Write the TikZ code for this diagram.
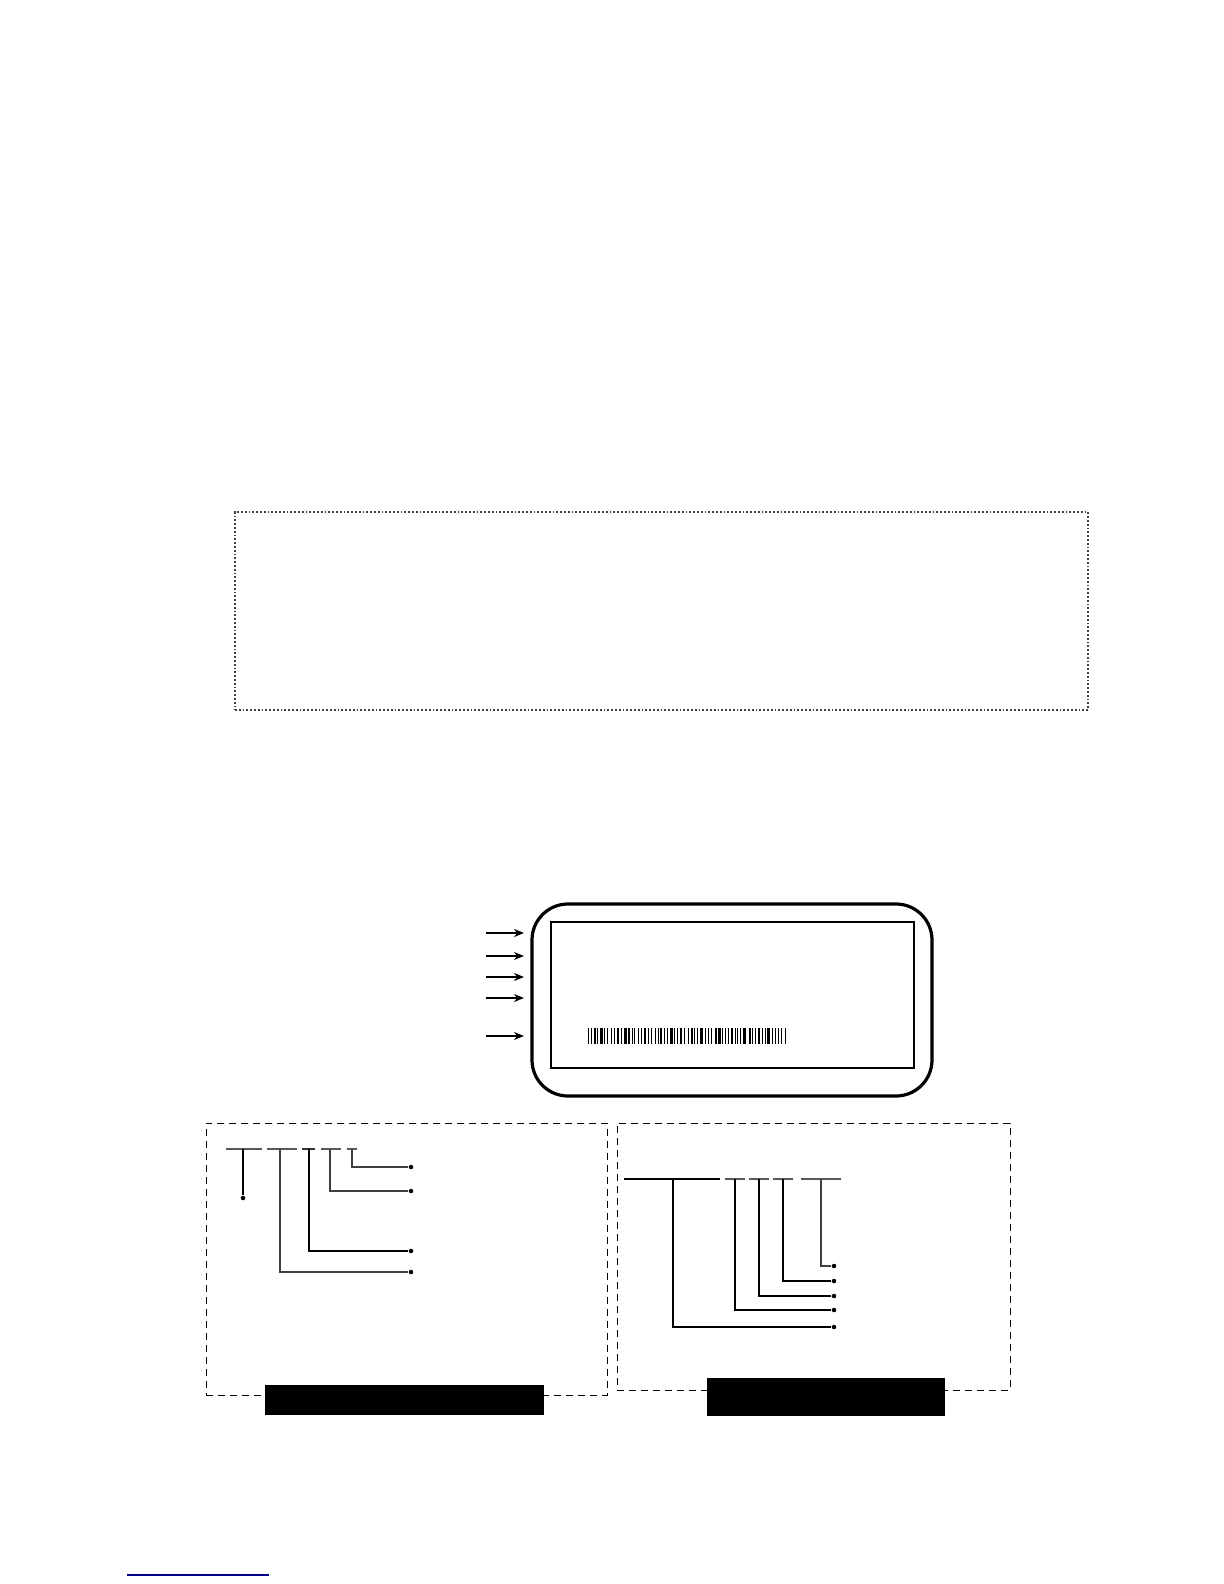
\documentclass[tikz,border=0pt]{standalone}
\usetikzlibrary{arrows.meta}

\begin{document}
\begin{tikzpicture}[x=0.5pt,y=-0.5pt,
  dot/.style={circle,fill=black,inner sep=0.8pt},
  frame/.style={draw,dash pattern=on 3.5pt off 2.5pt,line width=0.5pt,inner sep=0pt},
  tagbar/.style={fill=black,inner sep=0pt},
  feed/.style={-{Stealth[length=5pt,width=4pt]},line width=0.9pt},
  rule/.style={black!65,line width=0.7pt},
  branch/.style={line width=0.6pt}]
  \useasboundingbox (0,0) rectangle (1224,1584);

  \node[draw=black!75,densely dotted,line width=0.9pt,inner sep=0pt,minimum width=426.5pt,minimum height=99pt] (panel) at (661.5,611) {};

  \node[draw,rounded corners=18pt,line width=1.6pt,inner sep=0pt,minimum width=200pt,minimum height=96pt] (plate) at (732,1000) {};
  \node[draw,line width=0.7pt,inner sep=0pt,minimum width=181.5pt,minimum height=73pt] (sheet) at (732.5,995) {};

  \foreach \y [count=\i] in {933,956,977,998,1036} {
    \coordinate (f\i) at (486,\y);
    \coordinate (p\i) at (524,\y);
    \draw[feed] (f\i) -- (p\i);
  }

  \xdef\barx{588}
  \foreach \w/\g in {1/2,1/2,2/1,1/2,3/1,1/2,1/3,1/2,1/2,2/2,1/2,3/1,2/2,1/1,1/3,1/2,1/2,2/2,1/2,1/3,
                     1/2,1/1,2/2,1/2,1/2,3/1,1/2,1/2,2/2,1/3,1/2,2/1,1/2,1/2,3/2,1/2,1/2,1/3,2/1,3/1,
                     1/2,1/2,1/2,2/2,1/1,1/2,1/2,3/3,2/1,1/2,1/2,2/2,1/2,1/1,3/2,1/2,1/2,1/2,1/3,1/0} {
    \fill (\barx,1028) rectangle ++(\w,16);
    \pgfmathsetmacro\nextx{\barx+\w+\g}
    \xdef\barx{\nextx}
  }

  \node[frame,minimum width=200.5pt,minimum height=136pt] (lbox) at (406.5,1259) {};
  \node[frame,minimum width=196.5pt,minimum height=133.5pt] (rbox) at (813.5,1256.5) {};
  \node[tagbar,minimum width=139.5pt,minimum height=15pt] (lcap) at (404.5,1400) {};
  \node[tagbar,minimum width=119pt,minimum height=19pt] (rcap) at (826,1397) {};

  \draw[rule] (226,1149) -- (262,1149);
  \draw[rule] (267,1149) -- (297,1149);
  \draw[rule,black!80,line width=1pt] (302,1149) -- (315,1149);
  \draw[rule] (321,1149) -- (341,1149);
  \draw[rule] (347,1149) -- (357,1149);

  \coordinate (ta) at (243,1149);
  \coordinate (tb) at (280,1149);
  \coordinate (tc) at (309,1149);
  \coordinate (td) at (330,1149);
  \coordinate (te) at (352,1149);
  \node[dot] (la) at (243,1198) {};
  \node[dot] (lb) at (411,1272) {};
  \node[dot] (lc) at (411,1251) {};
  \node[dot] (ld) at (411,1191) {};
  \node[dot] (le) at (411,1167) {};
  \draw[branch] (ta) -- (la);
  \draw[branch,black!75] (tb) |- (lb);
  \draw[branch,line width=0.9pt] (tc) |- (lc);
  \draw[branch,black!75] (td) |- (ld);
  \draw[branch,black!75] (te) |- (le);

  \draw[line width=1.1pt] (624,1179) -- (720,1179);
  \draw[rule] (725,1179) -- (745,1179);
  \draw[rule] (749,1179) -- (769,1179);
  \draw[rule] (773,1179) -- (793,1179);
  \draw[rule] (801,1179) -- (841,1179);

  \coordinate (ua) at (673,1179);
  \coordinate (ub) at (735,1179);
  \coordinate (uc) at (759,1179);
  \coordinate (ud) at (783,1179);
  \coordinate (ue) at (821,1179);
  \node[dot] (ra) at (834,1327) {};
  \node[dot] (rb) at (834,1310) {};
  \node[dot] (rc) at (834,1296) {};
  \node[dot] (rd) at (834,1281) {};
  \node[dot] (re) at (834,1266) {};
  \draw[branch] (ua) |- (ra);
  \draw[branch] (ub) |- (rb);
  \draw[branch] (uc) |- (rc);
  \draw[branch] (ud) |- (rd);
  \draw[branch,black!75] (ue) |- (re);

  \coordinate (ls) at (127,1575);
  \coordinate (le2) at (269,1575);
  \draw[blue!55!black,line width=0.8pt] (ls) -- (le2);
\end{tikzpicture}
\end{document}
